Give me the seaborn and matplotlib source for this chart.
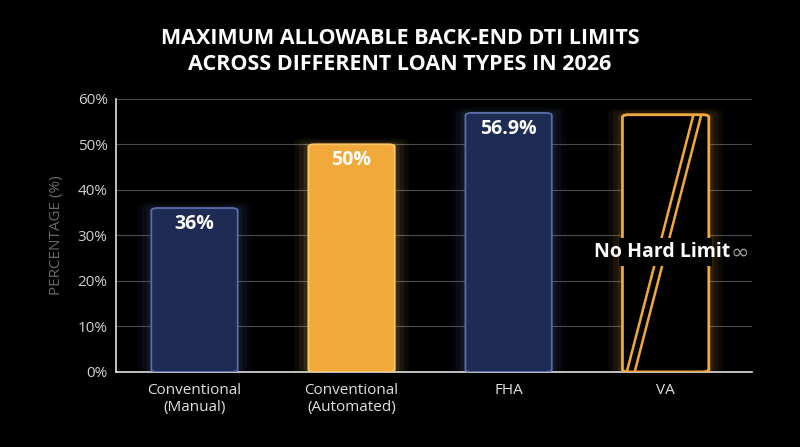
import matplotlib
matplotlib.use("Agg")
import matplotlib.pyplot as plt
import seaborn as sns
import pandas as pd
from matplotlib.patches import FancyBboxPatch
from matplotlib.lines import Line2D

categories = ["Conventional\n(Manual)", "Conventional\n(Automated)", "FHA", "VA"]
values = [36, 50, 56.9, 56.5]
labels = ["36%", "50%", "56.9%", "No Hard Limit"]
colors = ["#1d2b55", "#f2a93b", "#1d2b55", "#000000"]
edges = ["#5a6ea8", "#ffc766", "#5a6ea8", "#f2a93b"]

sns.set_theme(style="dark")
plt.rcParams['font.family'] = ['Open Sans', 'DejaVu Sans']

fig = plt.figure(figsize=(8, 4.47), dpi=100, facecolor="black")
ax = fig.add_axes([0.145, 0.168, 0.795, 0.611], facecolor="black")
df = pd.DataFrame({"cat": categories, "val": values})
sns.barplot(data=df, x="cat", y="val", ax=ax, width=0.55, color="black")
ax.set_xlim(-0.5, 3.55)
ax.set_ylim(0, 60)

patches = list(ax.patches)
for i, p in enumerate(patches):
    x, w, h = p.get_x(), p.get_width(), p.get_height()
    p.set_visible(False)
    # glow
    for k, a in [(0.09, 0.05), (0.06, 0.07), (0.03, 0.10)]:
        ax.add_patch(FancyBboxPatch((x - k, 0), w + 2 * k, h + k * 14, boxstyle="round,pad=0,rounding_size=0.06",
                                    mutation_aspect=14, fc=edges[i], ec="none", alpha=a, zorder=1))
    ax.add_patch(FancyBboxPatch((x, 0), w, h, boxstyle="round,pad=0,rounding_size=0.04", mutation_aspect=14,
                                fc=colors[i], ec=edges[i], lw=2 if i == 3 else 1.3, zorder=3))
    if i < 3:
        ax.text(x + w / 2, h - 3.5, labels[i], ha="center", va="center", color="white",
                fontsize=14, fontweight="bold", zorder=5)
    else:
        # double diagonals
        for off in (0, 0.05):
            ax.add_line(Line2D([x + 0.03 + off, x + w - 0.1 + off], [0.3, h - 0.3], color=edges[i], lw=1.8, zorder=4))
        # gap behind text
        ax.add_patch(plt.Rectangle((x - 0.02, 23.3), w + 0.04, 6.2, fc="black", ec="none", zorder=4.5))
        ax.text(x + w / 2 - 0.02, 26.3, labels[i], ha="center", va="center", color="white",
                fontsize=14, fontweight="bold", zorder=5)
        ax.text(x + w / 2 + 0.47, 26.3, "∞", ha="center", va="center", color="#9a9a9a",
                fontsize=16, zorder=5, family=["DejaVu Sans"])

ax.set_yticks(range(0, 61, 10))
ax.set_yticklabels([f"{t}%" for t in range(0, 61, 10)], color="#d0d0d0", fontsize=11)
ax.tick_params(axis="x", colors="#e0e0e0", labelsize=11, length=0, pad=8)
ax.tick_params(axis="y", length=0, pad=6)
ax.set_xlabel("")
ax.set_ylabel("PERCENTAGE (%)", color="#6a6a6a", fontsize=11, labelpad=10)
ax.grid(axis="y", color="#4a4a4a", lw=0.8)
ax.grid(axis="x", visible=False)
ax.set_axisbelow(True)
for s in ["top", "right"]:
    ax.spines[s].set_visible(False)
for s in ["left", "bottom"]:
    ax.spines[s].set_color("#e0e0e0")
    ax.spines[s].set_linewidth(1.2)
    ax.spines[s].set_visible(True)

fig.text(0.5, 0.885, "MAXIMUM ALLOWABLE BACK-END DTI LIMITS\nACROSS DIFFERENT LOAN TYPES IN 2026",
         ha="center", va="center", color="white", fontsize=15.5, fontweight="bold", linespacing=1.3)
fig.savefig("out.png", dpi=100, facecolor="black")
